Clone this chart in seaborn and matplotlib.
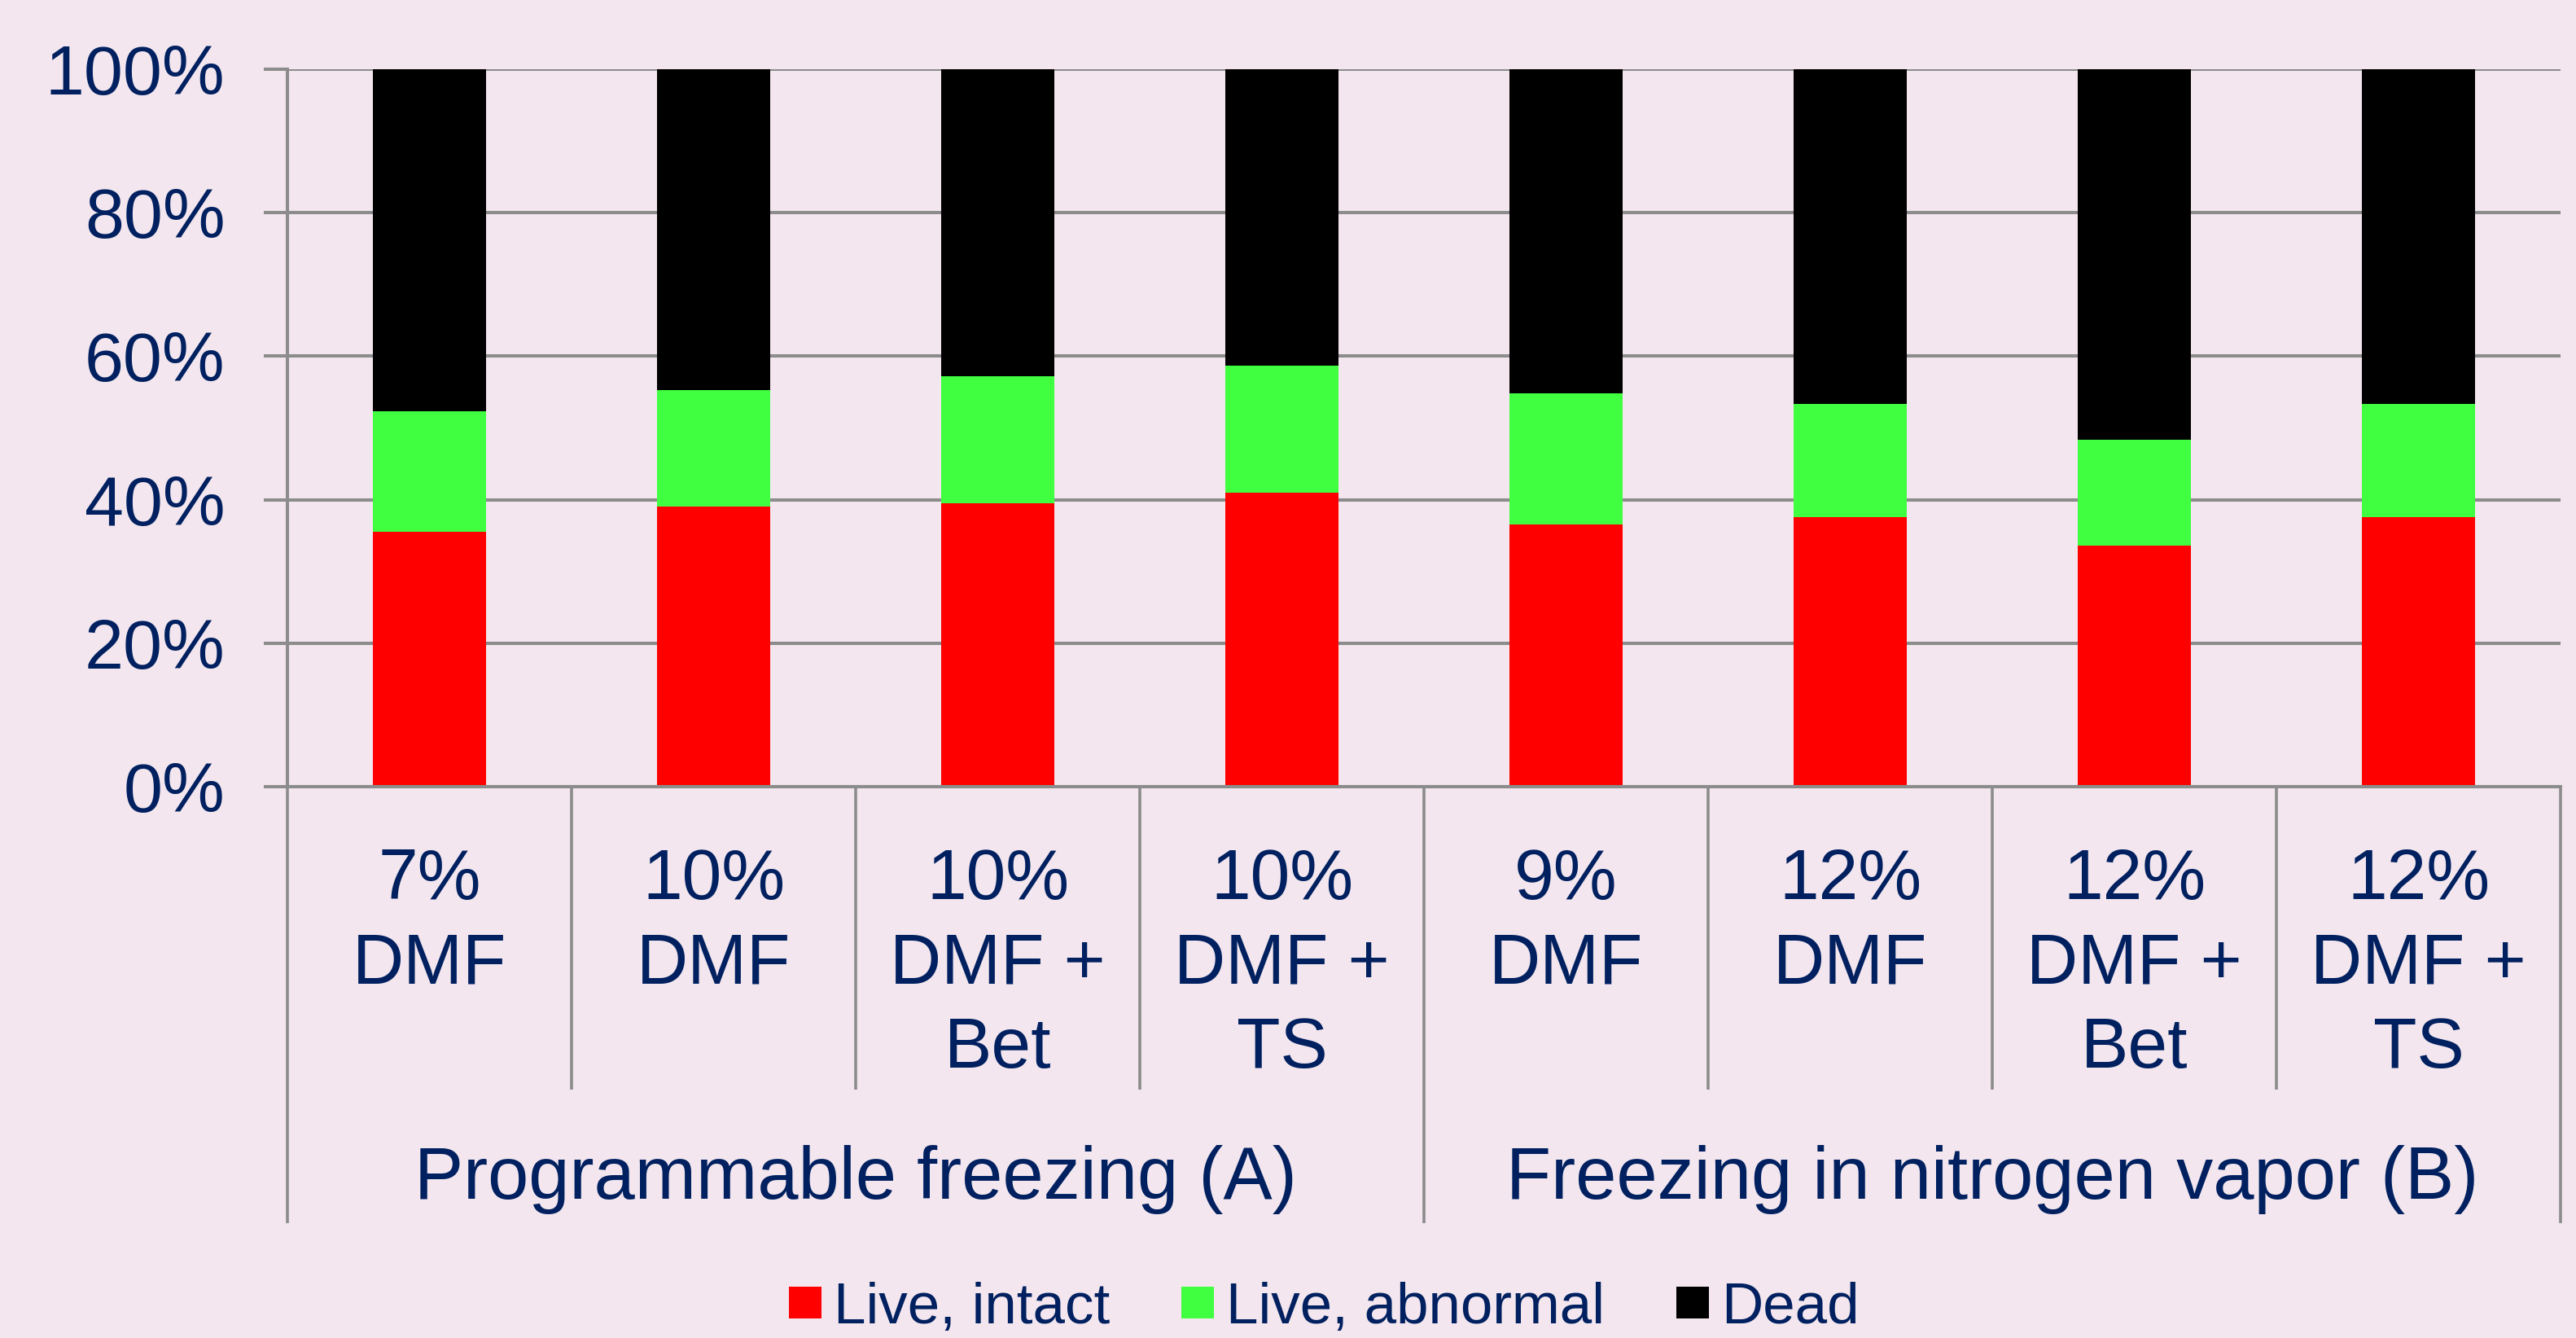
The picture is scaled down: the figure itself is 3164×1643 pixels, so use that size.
import numpy as np
import pandas as pd
import matplotlib
matplotlib.use("Agg")
import matplotlib.pyplot as plt
import matplotlib.transforms as mtransforms
from matplotlib.patches import Patch
import seaborn as sns

# ---- data ----
categories = ["7%\nDMF", "10%\nDMF", "10%\nDMF +\nBet", "10%\nDMF +\nTS",
              "9%\nDMF", "12%\nDMF", "12%\nDMF +\nBet", "12%\nDMF +\nTS"]
groups = ["Programmable freezing (A)", "Freezing in nitrogen vapor (B)"]
group_sizes = [4, 4]
live_intact = [35.5, 39.1, 39.5, 41.0, 36.5, 37.6, 33.6, 37.6]
live_abnormal = [16.8, 16.2, 17.7, 17.7, 18.3, 15.7, 14.8, 15.7]
dead = [47.7, 44.7, 42.8, 41.3, 45.2, 46.7, 51.6, 46.7]
series_names = ["Live, intact", "Live, abnormal", "Dead"]
y_ticks = [0, 20, 40, 60, 80, 100]

# ---- style ----
bg = "#F3E6EE"
navy = "#002060"
grid_col = "#8C8C8C"
colors = ["#FF0000", "#40FF40", "#000000"]

sns.set_style("white")
plt.rcParams["font.family"] = ["Liberation Sans", "DejaVu Sans"]

df = pd.DataFrame({
    "category": categories,
    "intact": live_intact,
    "abnormal": live_abnormal,
    "dead": dead,
})
df["top_intact"] = df["intact"]
df["top_abnormal"] = df["intact"] + df["abnormal"]
df["top_dead"] = df["top_abnormal"] + df["dead"]

fig = plt.figure(figsize=(31.64, 16.43), dpi=100, facecolor=bg)
ax = fig.add_axes([0.11157, 0.41205, 0.88243, 0.53621])
ax.set_facecolor(bg)

# stacked bars: draw cumulative totals from the top layer down
for col, c in zip(["top_dead", "top_abnormal", "top_intact"], colors[::-1]):
    sns.barplot(data=df, x="category", y=col, order=categories, color=c,
                saturation=1, width=0.4, ax=ax, linewidth=0)

ax.set_xlim(-0.5, len(categories) - 0.5)
ax.set_ylim(0, 100)
ax.set_xlabel("")
ax.set_ylabel("")

ax.set_yticks(y_ticks)
ax.set_yticklabels([f"{t}%" for t in y_ticks])
ax.yaxis.grid(True, color=grid_col, linewidth=2.9)
ax.set_axisbelow(True)
ax.tick_params(axis="y", left=True, length=21, width=2.9, color=grid_col,
               pad=34, labelsize=62, labelcolor=navy)
ax.tick_params(axis="x", length=0, labelbottom=False)

for side in ["top", "right"]:
    ax.spines[side].set_visible(False)
for side in ["left", "bottom"]:
    ax.spines[side].set_color(grid_col)
    ax.spines[side].set_linewidth(2.9)

# multi-level category axis: one baseline per label line
trans = mtransforms.blended_transform_factory(ax.transData, ax.transAxes)
first_baseline = -0.1566
line_step = 0.1175
for i, lab in enumerate(categories):
    for j, line in enumerate(lab.split("\n")):
        ax.text(i, first_baseline - j * line_step, line, transform=trans,
                ha="center", va="baseline", fontsize=63, color=navy)

cat_sep_bottom = -0.4222
grp_sep_bottom = -0.6084
start = 0
bounds = [-0.5]
for g, n in zip(groups, group_sizes):
    for k in range(start + 1, start + n):
        ax.plot([k - 0.5, k - 0.5], [0, cat_sep_bottom], transform=trans,
                color=grid_col, lw=2.6, clip_on=False, solid_capstyle="butt")
    center = start + (n - 1) / 2
    ax.text(center, -0.5743, g, transform=trans, ha="center", va="baseline",
            fontsize=65, color=navy)
    start += n
    bounds.append(start - 0.5)
for b in bounds:
    ax.plot([b, b], [0, grp_sep_bottom], transform=trans,
            color=grid_col, lw=2.6, clip_on=False, solid_capstyle="butt")

# legend along the bottom edge
handles = [Patch(facecolor=c, edgecolor="none") for c in colors]
fig.legend(handles, series_names, loc="center", bbox_to_anchor=(0.514, 0.022),
           ncol=3, frameon=False, fontsize=51, labelcolor=navy,
           handlelength=0.56, handleheight=0.48, handletextpad=0.21,
           columnspacing=1.25, borderpad=0)

fig.savefig("out.png", dpi=100, facecolor=bg)
